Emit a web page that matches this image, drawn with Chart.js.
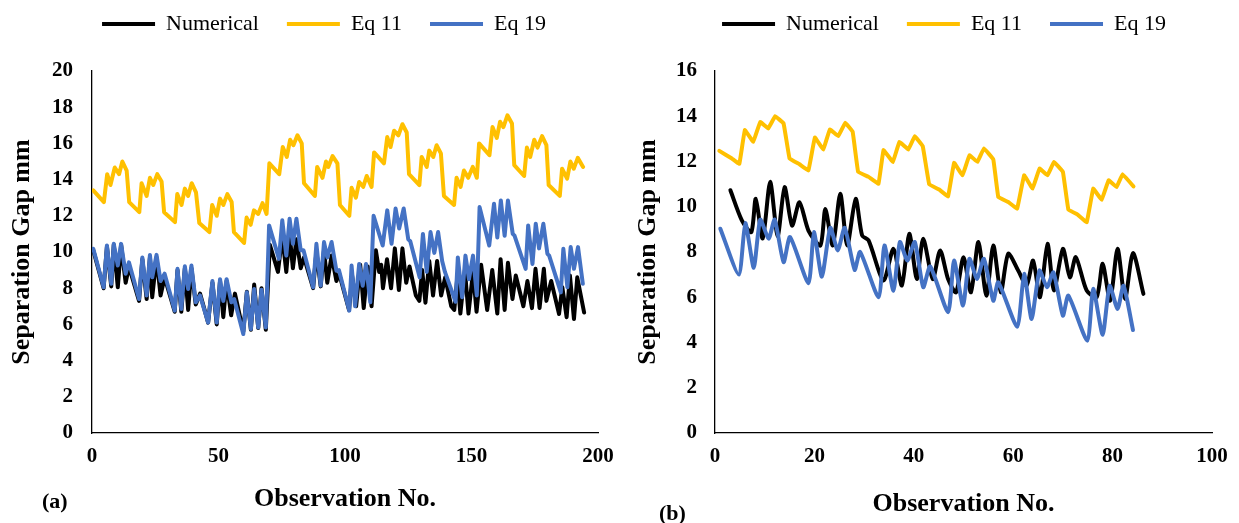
<!DOCTYPE html>
<html><head><meta charset="utf-8">
<script src="https://cdn.jsdelivr.net/npm/chart.js"></script>
<style>
html,body{margin:0;padding:0;background:#fff;}
#wrap{position:relative;width:1239px;height:523px;overflow:hidden;background:#fff;}
canvas{position:absolute;top:0;}
#ca{left:0;} #cb{left:620px;}
.lab{position:absolute;font:bold 22px "Liberation Serif","Times New Roman",serif;color:#000;line-height:26px;}
</style></head><body>
<div id="wrap">
<canvas id="ca" width="620" height="523"></canvas>
<canvas id="cb" width="619" height="523"></canvas>
<div class="lab" style="left:42px;top:488px">(a)</div>
<div class="lab" style="left:659px;top:500px">(b)</div>
</div>
<script>
// ---------- Panel (a) ----------
const aNumX = [0.5,4.6,5.9,7.6,8.6,10.2,11.5,13.3,14.6, 18.6,19.9,21.6,22.9,23.8,25.5,27.1,28.7, 32.7,33.8,35.3,36.7,38,39.3,41,42.7, 45.9,47.6,49.3,50.6,51.9,53.2,55,56.5, 59.8,61.2,62.8,64.1,65.7,67,68.7, 70.3,73.5,75.2,76.8,78.1,79.4,80.8,82.5,83.8, 87.4,88.7,90.4,91.7,93,94.7,96.6,97.7, 101.6,102.8,104.4,106,107.4,109,110.5, 112.2,113.5,114.3,115,116.6,118.2,119.7,121.3,122.7,124.2,125.5, 128,129.4,130.5,131.8,133.3,134.8,136.4,138,139.6, 142,143.2,144.4,145.6,147.4,148.8,150.6,152, 153.8,156.2,158.2,160.2,161.5,163.1,164.4,166.2,167.5, 170.5,172.1,173.9,175.3,176.9,178.6,179.6,181.5, 184.6,185.9,187.6,188.9,190.5,191.8,194.5];
const aNumY = [10.1,8.0,10.3,8.1,10.4,8.05,10.4,8.3,9.2, 7.3,9.6,7.4,9.7,7.5,9.7,7.6,8.6, 6.7,9.0,6.7,9.1,6.8,9.1,7.1,7.7, 6.1,8.3,6.0,8.4,6.4,8.4,6.5,7.7, 5.6,7.8,5.7,8.2,5.8,8.0,5.7, 10.4,8.9,10.9,8.9,11.0,9.1,10.7,9.1,9.7, 8.0,10.0,8.1,10.1,8.3,9.8,8.4,8.8, 6.8,8.7,7.0,9.3,6.9,9.2,7.0, 10.1,8.9,9.3,8.0,9.6,8.0,10.2,7.9,10.2,8.3,9.2, 7.6,7.3,9.0,7.2,9.5,7.6,9.5,7.6,8.6, 7.0,6.8,8.6,6.6,9.0,6.6,8.9,6.7, 9.3,6.8,9.0,6.6,9.6,6.8,9.4,7.4,8.7, 7.0,8.4,6.9,9.07,6.9,9.07,7.3,8.4, 6.57,8.05,6.4,8.7,6.3,8.6,6.66];

const aEq11X = [0.5,4.7,6,7.3,9,10.7,12,13.7, 14.7,18.7,19.6,21.6,22.9,24.2,25.8,27.5, 28.5,32.8,33.7,35.4,36.7,38,39.4,41.1, 42.4,46.4,47.5,49.3,50.6,51.9,53.5,55.2, 56.1,60.1,61.1,62.7,64,65.7,67.4,69, 70.1,74,75.4,77,78.3,79.6,81.2,82.9, 83.8,88.1,89,91.1,92.5,93.4,95.1,97, 98,101.7,102.6,104.3,105.6,107.2,108.6,110.5, 111.5,115.4,116.7,118,119.4,121.1,122.7,124.4, 125.3,129.4,130.3,132.3,133.3,134.9,136.2,137.9, 139.1,143.1,144.1,145.7,147,148.7,150.5,152.1, 153,157.1,158.3,160,161.3,162.6,164.2,166, 166.9,170.8,171.9,173.2,174.8,176.1,177.9,179.6, 180.5,184.9,185.8,187.8,189.1,190.4,192,194.1];
const aEq11Y = [13.4,12.76,14.3,13.7,14.67,14.3,15.0,14.5, 12.76,12.2,13.8,13.1,14.1,13.7,14.3,13.9, 12.2,11.65,13.2,12.6,13.5,13.1,13.8,13.3, 11.6,11.1,12.6,12.0,12.95,12.6,13.2,12.76, 11.1,10.5,11.9,11.5,12.3,12.1,12.7,12.1, 14.9,14.3,15.8,15.25,16.2,15.9,16.45,16.0, 13.8,13.1,14.7,14.1,15.0,14.7,15.3,14.9, 12.6,12.0,13.55,13.0,13.87,13.6,14.2,13.6, 15.5,14.9,16.35,15.8,16.7,16.45,17.06,16.6, 14.3,13.7,15.25,14.7,15.6,15.25,15.9,15.45, 13.1,12.6,14.1,13.6,14.5,14.1,14.7,14.1, 16.0,15.35,16.9,16.3,17.2,16.9,17.55,17.1, 14.8,14.2,15.77,15.25,16.2,15.77,16.4,15.9, 13.7,13.1,14.6,14.05,15.0,14.6,15.2,14.7];

const aEq19X = [0.5,4.6,5.9,7.6,8.6,10.2,11.5,13.3,14.6, 18.6,19.9,21.6,22.9,23.8,25.5,27.1,28.7, 32.7,33.8,35.3,36.7,38,39.3,41,42.7, 45.9,47.6,49.3,50.6,51.9,53.2,55.1,56.2, 59.8,61.2,62.8,64.1,65.7,67,68.7, 70,73.9,75.2,76.8,78.1,79.4,80.8,82.5,83.6, 87.4,88.7,90.4,91.7,93,94.7,96.6,97.6, 101.7,102.6,104,105.6,107,108.3,110, 111.3,114.9,116.7,118.4,120,121.4,123.2,125,125.8, 129.5,130.8,132.3,133.8,135.3,136.8,138.4,139.5, 143.7,144.6,146.3,147.6,149,150.6,152.1, 153.2,157,158.9,160.2,161.6,163.1,164.4,166.3,167, 171.4,172.4,174.1,175.4,176.7,178.4,180,180.7, 185.3,186.3,187.9,189.2,190.5,192.1,194];
const aEq19Y = [10.18,8.05,10.36,8.24,10.45,9.25,10.45,8.8,9.43, 7.4,9.7,7.6,9.84,8.6,9.84,8.4,8.8, 6.76,9.07,6.85,9.21,7.96,9.25,7.22,7.6, 6.1,8.4,6.1,8.5,7.3,8.5,7.22,7.4, 5.47,7.77,5.74,7.96,5.83,7.92,5.83, 11.47,9.62,11.75,9.8,11.84,10.45,11.84,10.1,10.1, 8.05,10.45,8.14,10.55,9.7,10.55,8.97,9.0, 6.76,9.25,7.0,9.34,8.14,9.34,7.22, 12.0,10.36,12.3,10.45,12.4,11.3,12.4,10.7,10.6, 8.6,11.0,8.9,11.1,9.95,11.1,9.5,8.9, 7.25,9.7,7.5,9.8,8.5,9.8,7.6, 12.48,10.36,12.67,10.8,12.85,10.9,12.85,11.0,10.9, 9.07,11.47,9.34,11.56,10.2,11.56,9.9,9.8, 7.77,10.18,8.05,10.27,9.07,10.27,8.24];

// ---------- Panel (b) ----------
const bNumX = [3.1,5.4,7.3,8.2,9.6,11.1,12.6,14,15.5,17, 18.8,21.2,22.2,23.7,25.2,26.6,28.3,29.6,30.9,33.9, 35.9,37.6,39.1,40.6,41.9,43.8,45.3,46.9,48.5,50, 51.5,53,54.6,56,57.5,59,61,62.7,64,65.4, 66.9,68.2,70,71.4,72.6,74.8,76.8,78,79.5,81, 82.5,84.1,86.2];
const bNumY = [10.73,9.4,8.88,10.35,8.6,11.1,8.7,10.87,9.17,10.2, 8.95,8.29,9.9,8.29,10.58,8.29,10.35,8.73,8.51,6.74, 8.14,6.52,8.8,6.81,8.59,6.8,8.07,6.8,6.22,7.77, 6.22,8.44,6.07,8.29,6.22,7.92,7.18,6.52,7.62,6.0, 8.36,6.3,8.14,6.88,7.77,6.29,6.0,7.48,5.85,8.14, 5.93,7.95,6.15];

const bEq11X = [0.87,3.4,4.9,6.0,7.7,9.1,10.7,12.1,13.8, 15,17,18.8,20.1,21.8,23.1,24.8,26.2,27.7, 28.8,30.9,32.9,33.9,35.8,37.1,38.9,40.2,41.8, 43.1,45.1,46.9,48.1,49.8,51.2,52.8,54.1,56, 57,59,60.8,62.2,63.9,65.3,66.9,68.2,70, 71.1,72.9,74.8,76.1,77.8,79.2,80.8,82,84.2];
const bEq11Y = [12.47,12.13,11.9,13.39,12.87,13.75,13.46,14.0,13.68, 12.13,11.88,11.61,13.06,12.53,13.42,13.12,13.71,13.31, 11.54,11.32,11.02,12.5,11.98,12.87,12.53,13.12,12.68, 10.99,10.76,10.46,11.94,11.39,12.28,11.98,12.58,12.09, 10.43,10.21,9.92,11.39,10.8,11.69,11.39,11.98,11.54, 9.87,9.66,9.32,10.8,10.31,11.17,10.87,11.44,10.9];

const bEq19X = [1.07,4.8,6.1,7.8,9.1,10.8,12,13.8,15.1, 18.8,19.9,21.5,23.2,24.7,26.1,28.1,29.2, 32.9,34.1,35.9,37.2,38.7,40.2,41.9,43.3, 46.9,48.1,49.9,51.2,52.7,54.1,56,57, 60.8,62.2,63.7,65.3,66.8,68.1,70,71.1, 74.9,76.1,78,79.4,81,82.2,84.1];
const bEq19Y = [9.03,7.0,9.28,7.3,9.43,8.59,9.43,7.55,8.66, 6.62,8.88,6.91,9.07,8.07,9.07,7.21,8.0, 6.0,8.29,6.29,8.44,7.62,8.44,6.44,7.36, 5.34,7.62,5.63,7.7,6.81,7.7,5.85,6.66, 4.7,7.03,5.04,7.18,6.44,7.1,5.19,6.07, 4.08,6.37,4.34,6.51,5.48,6.51,4.55];

// ---------- Labels ----------
const seriesNames = ['Numerical', 'Eq 11', 'Eq 19'];
const xTitle = 'Observation No.';
const yTitle = 'Separation Gap mm';

const FONT = '"Liberation Serif","Times New Roman",serif';
const COLORS = ['#000000', '#FFC000', '#4472C4'];

function pts(xs, ys) { return xs.map((x, i) => ({x: x, y: ys[i]})); }

function build(id, p) {
  const sets = [[p.numX, p.numY, p.tNum], [p.e11X, p.e11Y, p.t11], [p.e19X, p.e19Y, p.t19]];
  const datasets = sets.map((s, i) => ({
    label: seriesNames[i],
    data: pts(s[0], s[1]),
    borderColor: COLORS[i],
    backgroundColor: COLORS[i],
    borderWidth: 4,
    pointRadius: 0,
    pointHoverRadius: 0,
    tension: s[2],
    borderCapStyle: 'round',
    borderJoinStyle: 'round',
    fill: false,
    order: 2 - i
  }));
  const legendH = 71 - p.padT;
  return new Chart(document.getElementById(id), {
    type: 'line',
    data: {datasets: datasets},
    options: {
      responsive: false,
      animation: false,
      devicePixelRatio: 1,
      layout: {padding: {left: p.padL, right: p.padR, top: p.padT, bottom: 0}},
      plugins: {
        legend: {
          position: 'top',
          labels: {
            usePointStyle: true, pointStyle: 'line', pointStyleWidth: 53,
            padding: 28, color: '#000',
            font: {family: FONT, size: 22},
            sort: (a, b) => a.datasetIndex - b.datasetIndex
          }
        },
        tooltip: {enabled: false}
      },
      scales: {
        x: {
          type: 'linear', min: 0, max: p.xMax,
          ticks: {stepSize: p.xStep, color: '#000', padding: 11, maxRotation: 0,
                  font: {family: FONT, size: 21, weight: 'bold'}},
          grid: {display: false, drawTicks: false},
          border: {display: true, color: '#000', width: 1.3},
          title: {display: true, text: xTitle, color: '#000',
                  font: {family: FONT, size: 26, weight: 'bold'},
                  padding: {top: 0, bottom: p.xTitlePad}},
          afterFit: (s) => { s.height = 90; s.paddingRight = 0; s.paddingLeft = 0; }
        },
        y: {
          min: 0, max: p.yMax,
          ticks: {stepSize: 2, color: '#000', padding: p.yTickPad,
                  font: {family: FONT, size: 21, weight: 'bold'}},
          grid: {display: false, drawTicks: false},
          border: {display: true, color: '#000', width: 1.3},
          title: {display: true, text: yTitle, color: '#000',
                  font: {family: FONT, size: 26, weight: 'bold'},
                  padding: {top: p.yTitlePad, bottom: 0}},
          afterFit: (s) => { s.width = p.yW; }
        }
      }
    },
    plugins: [{
      id: 'legendGap',
      beforeInit(chart) {
        if (!chart.legend) return;
        const orig = chart.legend.fit;
        chart.legend.fit = function () { orig.call(this); this.height = legendH; };
      }
    }]
  });
}

build('ca', {
  numX: aNumX, numY: aNumY, e11X: aEq11X, e11Y: aEq11Y, e19X: aEq19X, e19Y: aEq19Y,
  tNum: 0, t11: 0, t19: 0,
  xMax: 200, xStep: 50, yMax: 20,
  padL: 50, padR: 22, padT: -15, yW: 42, yTickPad: 19, yTitlePad: -43.6, xTitlePad: 8.4
});
build('cb', {
  numX: bNumX, numY: bNumY, e11X: bEq11X, e11Y: bEq11Y, e19X: bEq19X, e19Y: bEq19Y,
  tNum: 0.25, t11: 0.05, t19: 0.2,
  xMax: 100, xStep: 20, yMax: 16,
  padL: 56, padR: 27, padT: -15, yW: 39, yTickPad: 18, yTitlePad: -43.6, xTitlePad: 3.4
});
</script>
</body></html>
